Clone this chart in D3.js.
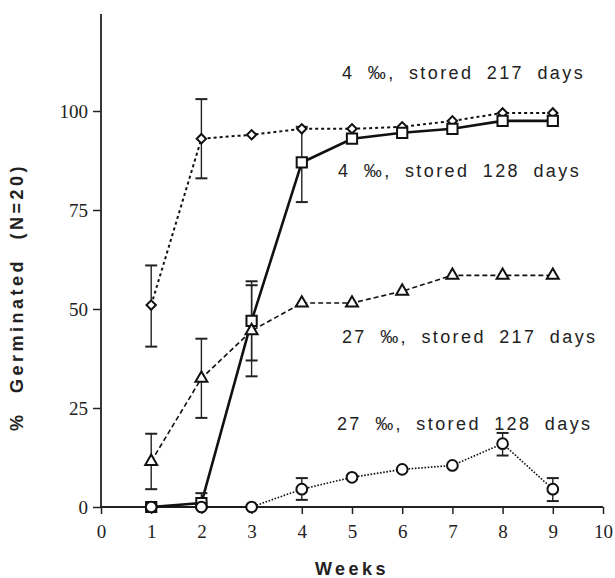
<!DOCTYPE html>
<html>
<head>
<meta charset="utf-8">
<script src="https://cdn.jsdelivr.net/npm/d3@7"></script>
<style>
  body { margin: 0; background: #fff; }
  svg { display: block; }
  .tick text { font-family: "Liberation Serif", "Times New Roman", serif; font-size: 19px; fill: #222; }
  .note { font-family: "Liberation Sans", Arial, sans-serif; font-size: 18px; fill: #222; letter-spacing: 2.4px; word-spacing: 6px; }
  .title { font-family: "Liberation Sans", Arial, sans-serif; font-size: 18px; font-weight: bold; fill: #222; letter-spacing: 3.5px; }
</style>
</head>
<body>
<svg id="chart" width="615" height="578"></svg>
<script>
// weeks after sowing
let weeks = [1, 2, 3, 4, 5, 6, 7, 8, 9];

// % germinated
let salt4Stored217 = [51, 93, 94, 95.5, 95.5, 96, 97.5, 99.5, 99.5];
let salt4Stored128 = [0, 1, 47, 87, 93, 94.5, 95.5, 97.5, 97.5];
let salt27Stored217 = [11.5, 32.5, 44.5, 51.5, 51.5, 54.5, 58.5, 58.5, 58.5];
let salt27Stored128 = [0, 0, 0, 4.5, 7.5, 9.5, 10.5, 16, 4.5];

// error bars: [week, low, high]
let err4Stored217 = [[1, 40.5, 61], [2, 83, 103]];
let err4Stored128 = [[2, 1, 3.5], [3, 37, 57], [4, 77, 96]];
let err27Stored217 = [[1, 4.5, 18.5], [2, 22.5, 42.5], [3, 33, 56]];
let err27Stored128 = [[4, 1.8, 7.3], [8, 13, 18.7], [9, 1.5, 7.3]];

let xTicks = [0, 1, 2, 3, 4, 5, 6, 7, 8, 9, 10];
let yTicks = [0, 25, 50, 75, 100];

// curve labels, anchored at (week, %)
let labels = [
    {text: "4 \u2030, stored 217 days", x: 4.8, y: 108},
    {text: "4 \u2030, stored 128 days", x: 4.72, y: 83.3},
    {text: "27 \u2030, stored 217 days", x: 4.8, y: 41.4},
    {text: "27 \u2030, stored 128 days", x: 4.7, y: 19.4}
];

let svg = d3.select("svg#chart");
let x = d3.scaleLinear().domain([0, 10]).range([101, 603]);
let y = d3.scaleLinear().domain([0, 100]).range([507, 111]);

// axes
let xAxis = svg.append("g")
    .attr("transform", "translate(0," + y(0) + ")")
    .call(d3.axisBottom(x).tickValues(xTicks).tickSize(7).tickFormat(d3.format("d")));
xAxis.select(".domain").remove();
xAxis.selectAll(".tick line").attr("stroke", "#222").attr("stroke-width", 1.5);
xAxis.selectAll(".tick text").attr("y", 31).attr("dy", null);

let yAxis = svg.append("g")
    .attr("transform", "translate(" + x(0) + ",0)")
    .call(d3.axisLeft(y).tickValues(yTicks).tickSize(8).tickPadding(5));
yAxis.select(".domain").remove();
yAxis.selectAll(".tick line").attr("stroke", "#222").attr("stroke-width", 1.5);

svg.append("line")
    .attr("x1", x(0)).attr("x2", x(0))
    .attr("y1", y(0)).attr("y2", y(124.5))
    .attr("stroke", "#222").attr("stroke-width", 1.8);
svg.append("line")
    .attr("x1", x(0)).attr("x2", x(10))
    .attr("y1", y(0)).attr("y2", y(0))
    .attr("stroke", "#222").attr("stroke-width", 1.8);

// axis titles
svg.append("text")
    .attr("class", "title")
    .attr("x", 352).attr("y", 575)
    .attr("text-anchor", "middle")
    .text("Weeks");
svg.append("text")
    .attr("class", "title")
    .attr("transform", "translate(23,297) rotate(-90)")
    .attr("text-anchor", "middle")
    .style("word-spacing", "10px")
    .text("% Germinated (N=20)");

let series = [
    {values: salt4Stored217, errors: err4Stored217, dash: "3,3", width: 2, symbol: d3.symbolSquare, size: 44, rotate: 45},
    {values: salt4Stored128, errors: err4Stored128, dash: null, width: 2.6, symbol: d3.symbolSquare, size: 105, rotate: 0},
    {values: salt27Stored217, errors: err27Stored217, dash: "5,3", width: 1.6, symbol: d3.symbolTriangle, size: 62, rotate: 0},
    {values: salt27Stored128, errors: err27Stored128, dash: "1.6,1.6", width: 1.6, symbol: d3.symbolCircle, size: 90, rotate: 0}
];

let line = d3.line()
    .x(function(d, i) { return x(weeks[i]); })
    .y(function(d) { return y(d); });

series.forEach(function(s) {
    svg.append("path")
        .datum(s.values)
        .attr("d", line)
        .attr("fill", "none")
        .attr("stroke", "#111")
        .attr("stroke-width", s.width)
        .attr("stroke-dasharray", s.dash);
});

series.forEach(function(s) {
    let g = svg.append("g").attr("stroke", "#222");
    s.errors.forEach(function(e) {
        g.append("line")
            .attr("x1", x(e[0])).attr("x2", x(e[0]))
            .attr("y1", y(e[1])).attr("y2", y(e[2]))
            .attr("stroke-width", 1.4);
        [e[1], e[2]].forEach(function(v) {
            g.append("line")
                .attr("x1", x(e[0]) - 6).attr("x2", x(e[0]) + 6)
                .attr("y1", y(v)).attr("y2", y(v))
                .attr("stroke-width", 2);
        });
    });
});

series.forEach(function(s) {
    svg.append("g").selectAll("path")
        .data(s.values)
        .join("path")
        .attr("transform", function(d, i) { return "translate(" + x(weeks[i]) + "," + y(d) + ") rotate(" + s.rotate + ")"; })
        .attr("d", d3.symbol(s.symbol, s.size))
        .attr("fill", "#fff")
        .attr("stroke", "#111")
        .attr("stroke-width", 2);
});

// curve labels
svg.append("g").selectAll("text")
    .data(labels)
    .join("text")
    .attr("class", "note")
    .attr("x", function(d) { return x(d.x); })
    .attr("y", function(d) { return y(d.y); })
    .text(function(d) { return d.text; });
</script>
</body>
</html>
